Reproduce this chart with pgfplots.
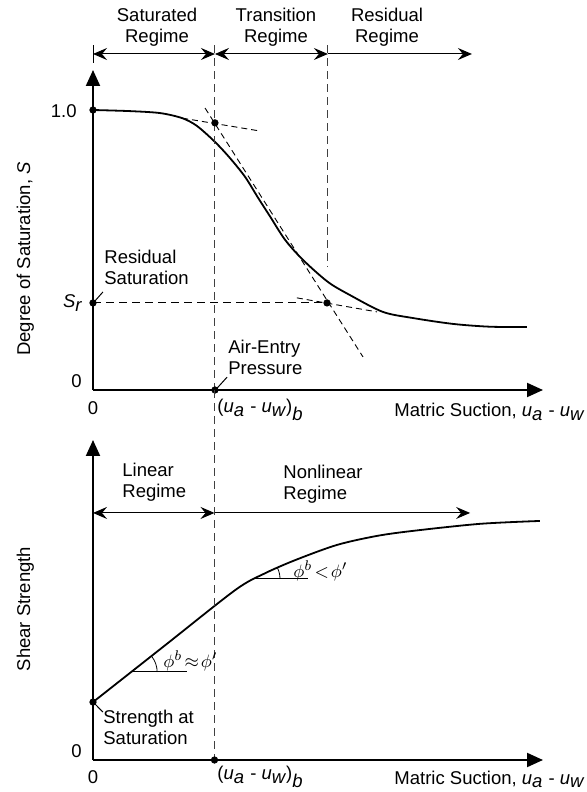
\documentclass[border=0pt]{standalone}
\usepackage{pgfplots}
\pgfplotsset{compat=1.18}
\usepackage{fontspec}
\setmainfont{Liberation Sans}
\usetikzlibrary{arrows.meta}
\tikzset{
  ra/.style={-{Stealth[length=7pt,width=6pt,inset=2.5pt]}},
  lra/.style={{Stealth[length=7pt,width=6pt,inset=2.5pt]}-{Stealth[length=7pt,width=6pt,inset=2.5pt]}},
}
\pgfplotsset{
  schem/.style={
    scale only axis, width=225pt, height=160pt,
    axis lines=left, xmin=0, xmax=10, ymin=0,
    xtick=\empty, ytick=\empty, clip=false,
    axis line style={line width=1pt, -{Triangle[length=8pt,width=7pt]}},
  },
  curve/.style={black, line width=0.9pt, no marks},
  dsh/.style={black, line width=0.5pt, dash pattern=on 4pt off 2.5pt, no marks},
  vdsh/.style={black!75, line width=0.5pt, dash pattern=on 4pt off 2.5pt, no marks},
  tng/.style={black, line width=0.45pt, dash pattern=on 3pt off 2pt, no marks},
  dot/.style={only marks, mark=*, mark size=1.6pt, black},
  reg/.style={black, line width=0.5pt, no marks},
}
\newcommand{\uab}{(\textit{u}$_{\textit{a}}$ - \textit{u}$_{\textit{w}}$)$_{\textit{b}}$}
\begin{document}
\begin{tikzpicture}[every node/.style={font=\fontsize{9.25}{10.5}\selectfont, inner sep=0pt}]
\useasboundingbox (0,0) rectangle (293.5pt,396pt);
% ---------- top panel: degree of saturation ----------
\begin{axis}[schem, at={(46.5pt,201pt)}, anchor=south west, ymax=1.142857]
\addplot[curve, smooth, tension=0.5] coordinates {
(0,1.000)(0.82,0.996)(1.49,0.989)(1.98,0.971)(2.31,0.943)(2.71,0.886)
(3.04,0.829)(3.38,0.761)(3.67,0.686)(3.93,0.621)(4.27,0.536)(4.67,0.464)
(5.22,0.386)(5.71,0.339)(6.44,0.279)(7.11,0.257)(8.00,0.236)(8.82,0.226)(9.64,0.225)};
\addplot[tng] coordinates {(1.98,0.971)(3.71,0.925)};
\addplot[tng] coordinates {(2.49,1.007)(6.0,0.118)};
\addplot[tng] coordinates {(4.53,0.329)(6.31,0.279)};
\addplot[dsh] coordinates {(0,0.311)(5.2,0.311)};
\addplot[vdsh] coordinates {(2.71,1.232)(2.71,0)};
\addplot[vdsh] coordinates {(5.22,1.232)(5.22,0.44)};
\addplot[reg, lra] coordinates {(0,1.2)(2.71,1.2)};
\addplot[reg, lra] coordinates {(2.71,1.2)(5.22,1.2)};
\addplot[reg, ra] coordinates {(5.22,1.2)(8.42,1.2)};
\addplot[reg] coordinates {(0,1.232)(0,1.168)};
\addplot[reg] coordinates {(0.044,0.318)(0.22,0.35)};
\addplot[reg] coordinates {(2.76,0.007)(2.98,0.046)};
\addplot[dot] coordinates {(0,1)(2.71,0.954)(0,0.311)(5.2,0.311)(2.71,0)};
\end{axis}
% ---------- bottom panel: shear strength ----------
\begin{axis}[schem, at={(46.5pt,16pt)}, anchor=south west, ymax=10]
\addplot[curve, smooth, tension=0.5] coordinates {
(0,1.81)(1.58,3.56)(3.16,5.31)(3.8,5.82)(4.5,6.25)(5.42,6.72)(6.3,7.0)
(7.11,7.16)(8.6,7.38)(9.93,7.47)};
\addplot[vdsh] coordinates {(2.7,11.56)(2.7,0)};
\addplot[reg, lra] coordinates {(0,7.72)(2.7,7.72)};
\addplot[reg, ra] coordinates {(2.7,7.72)(8.38,7.72)};
\addplot[reg] coordinates {(0.87,2.75)(2.09,2.75)};
\addplot[reg] coordinates {(3.6,5.66)(4.78,5.66)};
\addplot[reg] coordinates {(0.044,1.75)(0.22,1.5)};
\draw[line width=0.4pt] (axis cs:0.87,2.75) ++(0:12.5pt) arc[start angle=0,end angle=38,radius=12.5pt];
\draw[line width=0.4pt] (axis cs:3.6,5.66) ++(0:12.5pt) arc[start angle=0,end angle=27,radius=12.5pt];
\addplot[dot] coordinates {(0,1.81)(2.7,0)};
\end{axis}
% ---------- texts (anchor=base is the last line's baseline) ----------
\node[align=center, anchor=base] at (78.5pt,374.5pt) {Saturated\\Regime};
\node[align=center, anchor=base] at (138pt,374.5pt) {Transition\\Regime};
\node[align=center, anchor=base] at (193.5pt,374.5pt) {Residual\\Regime};
\node[align=left, anchor=base west] at (52pt,253.5pt) {Residual\\Saturation};
\node[align=left, anchor=base west] at (114pt,208.5pt) {Air-Entry\\Pressure};
\node[anchor=base west] at (108.5pt,189.5pt) {\uab};
\node[anchor=base west] at (108.5pt,6pt) {\uab};
\node[anchor=base] at (46.5pt,188.5pt) {0};
\node[anchor=base] at (46.5pt,4.5pt) {0};
\node[anchor=base east] at (41pt,202pt) {0};
\node[anchor=base east] at (41pt,17pt) {0};
\node[anchor=base east] at (38.5pt,337pt) {1.0};
\node[anchor=base east] at (41.5pt,242pt) {\textit{S}$_{\textit{r}}$};
\node[anchor=base east] at (292.5pt,187.5pt) {Matric Suction, \textit{u}$_{\textit{a}}$ - \textit{u}$_{\textit{w}}$};
\node[anchor=base east] at (292.5pt,4pt) {Matric Suction, \textit{u}$_{\textit{a}}$ - \textit{u}$_{\textit{w}}$};
\node[align=left, anchor=base west] at (61pt,147pt) {Linear\\Regime};
\node[align=left, anchor=base west] at (141.5pt,146pt) {Nonlinear\\Regime};
\node[align=left, anchor=base west] at (51.5pt,23.5pt) {Strength at\\Saturation};
\node[anchor=base west, font=\fontsize{9.5}{10}\selectfont] at (81.5pt,62pt) {$\phi^{b}\!\approx\!\phi'$};
\node[anchor=base west, font=\fontsize{9.5}{10}\selectfont] at (146.5pt,107pt) {$\phi^{b}\!<\!\phi'$};
\node[rotate=90, anchor=base] at (15pt,266.5pt) {Degree of Saturation, \textit{S}};
\node[rotate=90, anchor=base] at (15pt,91.5pt) {Shear Strength};
\end{tikzpicture}
\end{document}
